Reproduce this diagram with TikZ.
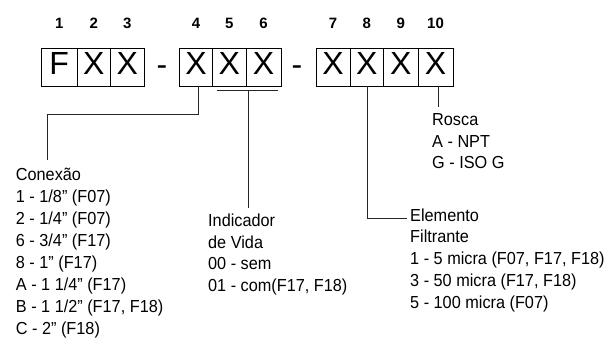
\documentclass[tikz,border=0pt]{standalone}
\usepackage{fontspec}
\setmainfont{Liberation Sans}
\newfontfamily\labfont{Liberation Sans}[FakeStretch=0.935]
\begin{document}
\begin{tikzpicture}[x=1pt,y=-1pt,
  cell/.style={draw=black, line width=0.9pt, minimum height=37.5pt, inner sep=0pt, text depth=7pt, font=\fontsize{32}{32}\selectfont},
  num/.style={anchor=base, inner sep=0pt, font=\fontsize{15}{15}\selectfont\bfseries},
  dashsym/.style={anchor=base, inner sep=0pt, font=\fontsize{32}{32}\selectfont},
  lab/.style={anchor=base west, inner sep=0pt, align=left, font=\labfont\fontsize{17.4}{21.8}\selectfont},
  conn/.style={draw=black!85, line width=1pt},
]
\useasboundingbox (0,0) rectangle (608,338);
% boxes
\node[cell, minimum width=35.5pt] (b1) at (59.25,67.25) {F};
\node[cell, minimum width=33.5pt] (b2) at (93.75,67.25) {X};
\node[cell, minimum width=33.5pt] (b3) at (127.25,67.25) {X};
\node[cell, minimum width=33pt] (b4) at (196,67.25) {X};
\node[cell, minimum width=33.5pt] (b5) at (229.25,67.25) {X};
\node[cell, minimum width=35pt] (b6) at (263.5,67.25) {X};
\node[cell, minimum width=34pt] (b7) at (333,67.25) {X};
\node[cell, minimum width=33.5pt] (b8) at (366.75,67.25) {X};
\node[cell, minimum width=34.5pt] (b9) at (400.75,67.25) {X};
\node[cell, minimum width=35pt] (b10) at (435.5,67.25) {X};
% dashes
\node[dashsym] (d1) at (162,75) {-};
\node[dashsym] (d2) at (297,75) {-};
% numbers
\coordinate (numrow) at (0,28);
\node[num] (n1) at (b1 |- numrow) {1};
\node[num] (n2) at (b2 |- numrow) {2};
\node[num] (n3) at (b3 |- numrow) {3};
\node[num] (n4) at (b4 |- numrow) {4};
\node[num] (n5) at (b5 |- numrow) {5};
\node[num] (n6) at (b6 |- numrow) {6};
\node[num] (n7) at (b7 |- numrow) {7};
\node[num] (n8) at (b8 |- numrow) {8};
\node[num] (n9) at (b9 |- numrow) {9};
\node[num] (n10) at (b10 |- numrow) {10};
% labels (anchor = baseline of last line)
\node[lab, font=\labfont\fontsize{17.4}{22}\selectfont] (conexao) at (15.7,334.6) {Conexão\\1 - 1/8” (F07)\\2 - 1/4” (F07)\\6 - 3/4” (F17)\\8 - 1” (F17)\\A - 1 1/4” (F17)\\B - 1 1/2” (F17, F18)\\C - 2” (F18)};
\node[lab] (vida) at (208,291.6) {Indicador\\de Vida\\00 - sem\\01 - com(F17, F18)};
\node[lab] (rosca) at (432,168.8) {Rosca\\A - NPT\\G - ISO G};
\node[lab] (elem) at (410,308.2) {Elemento\\Filtrante\\1 - 5 micra (F07, F17, F18)\\3 - 50 micra (F17, F18)\\5 - 100 micra (F07)};
% connectors
\coordinate (c1) at (47.7,160);
\draw[conn] ([xshift=2.5pt]b4.south) -- ++(0,28) -| (c1);
\coordinate (br1) at (216.7,90.7);
\coordinate (br2) at (278,90.7);
\coordinate (c2) at (248,208);
\draw[conn] (br1) -- (br2);
\draw[conn] (br1 -| c2) -- (c2);
\coordinate (c3) at (407,218.5);
\draw[conn] ([xshift=1.2pt]b8.south) |- (c3);
\coordinate (c4) at (438,107);
\draw[conn] (b10.south -| c4) -- (c4);
\end{tikzpicture}
\end{document}
